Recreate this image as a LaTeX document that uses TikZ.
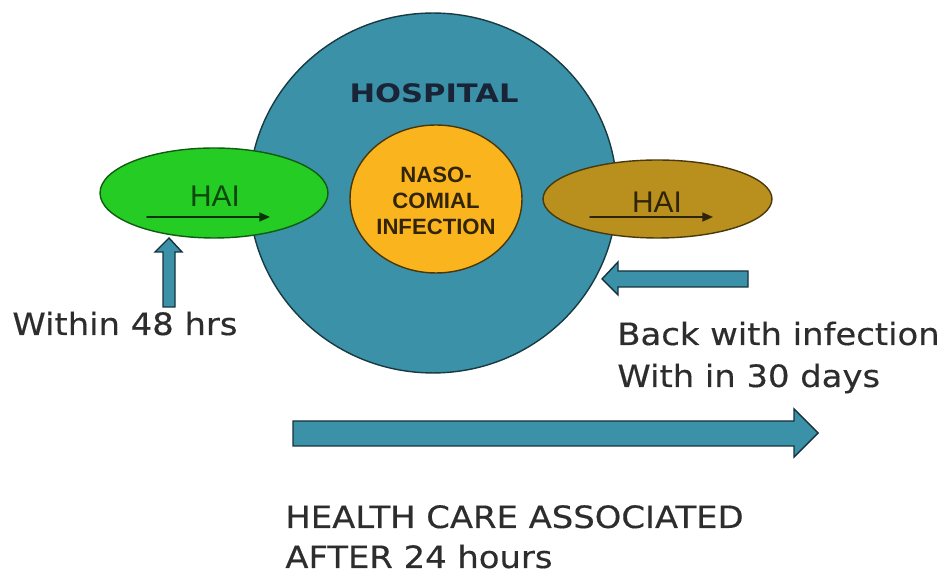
\documentclass[tikz,border=0pt]{standalone}
\usepackage{fontspec}
\usetikzlibrary{arrows.meta}
\usetikzlibrary{shapes.geometric}
\newfontfamily\verdfont[FakeStretch=1.1,FakeBold=0.4]{DejaVu Sans}
\newfontfamily\hospfont[FakeStretch=1.2]{DejaVu Sans}
\newfontfamily\arialfont{Liberation Sans}
\definecolor{hospteal}{RGB}{59,145,168}
\definecolor{haigreen}{RGB}{36,204,36}
\definecolor{haiolive}{RGB}{185,143,30}
\definecolor{nasoorange}{RGB}{250,180,30}
\definecolor{textgray}{RGB}{45,45,45}
\definecolor{hospnavy}{RGB}{25,36,55}

\begin{document}
\begin{tikzpicture}[line cap=round,line join=round, x=0.02cm,y=-0.02cm,
  blob/.style={ellipse, inner sep=0pt, line width=0.8pt},
  fatarrow/.style={fill=hospteal, draw=black!65!hospteal, line width=0.8pt, line join=miter},
  hairarrow/.style={line width=1pt, -{Triangle[length=6pt,width=5pt]}},
  caption/.style={font=\verdfont\fontsize{17.5}{21}\selectfont, text=textgray, anchor=base west, inner sep=0pt},
  haitext/.style={font=\arialfont\fontsize{17}{20}\selectfont, anchor=base, inner sep=0pt}]
\useasboundingbox (0,0) rectangle (943,573);
% hospital
\node[blob, fill=hospteal, draw=black!60!hospteal, minimum width=7.36cm, minimum height=7.2cm] (hosp) at (433,193) {};
\node[font=\hospfont\bfseries\fontsize{14.5}{17}\selectfont, text=hospnavy, anchor=base, inner sep=0pt] (hosplabel) at (434,103) {HOSPITAL};
\node[blob, fill=nasoorange, draw=black!70!nasoorange, minimum width=3.44cm, minimum height=2.96cm] (naso) at (436,199) {};
\node[font=\arialfont\bfseries\fontsize{12.6}{14.7}\selectfont, align=center, text=black!80!nasoorange, inner sep=0pt] (nasotext) at (436,201) {NASO-\\COMIAL\\INFECTION};
% HAI on the way in
\node[blob, fill=haigreen, draw=black!55!haigreen, minimum width=4.56cm, minimum height=1.8cm] (haiin) at (214,193) {};
\node[haitext, text=black!65!haigreen] (haiintext) at (215,207) {HAI};
\coordinate (ingo) at (147,217);
\coordinate (inend) at (270,217);
\draw[hairarrow, draw=black!75!haigreen] (ingo) -- (inend);
% HAI on the way out
\node[blob, fill=haiolive, draw=black!60!haiolive, minimum width=4.58cm, minimum height=1.56cm] (haiout) at (657.5,199) {};
\node[haitext, text=black!75!haiolive] (haiouttext) at (657,213) {HAI};
\coordinate (outgo) at (590,217);
\coordinate (outend) at (713,217);
\draw[hairarrow, draw=black!75!haiolive] (outgo) -- (outend);
% block arrows
\draw[fatarrow] (169,238) -- (182,252) -- (175,252) -- (175,307) -- (163,307) -- (163,252) -- (155,252) -- cycle;
\draw[fatarrow] (602,279) -- (618,262) -- (618,271) -- (748,271) -- (748,287) -- (618,287) -- (618,295) -- cycle;
\draw[fatarrow] (293,421) -- (794,421) -- (794,409) -- (818,433) -- (794,457) -- (794,446) -- (293,446) -- cycle;
% captions
\node[caption] (within) at (12,335) {Within 48 hrs};
\node[caption] (back) at (617,345) {Back with infection};
\node[caption] (within30) at (617,387) {With in 30 days};
\node[caption] (hca) at (285,528) {HEALTH CARE ASSOCIATED};
\node[caption] (after) at (285,568) {AFTER 24 hours};
\end{tikzpicture}
\end{document}
